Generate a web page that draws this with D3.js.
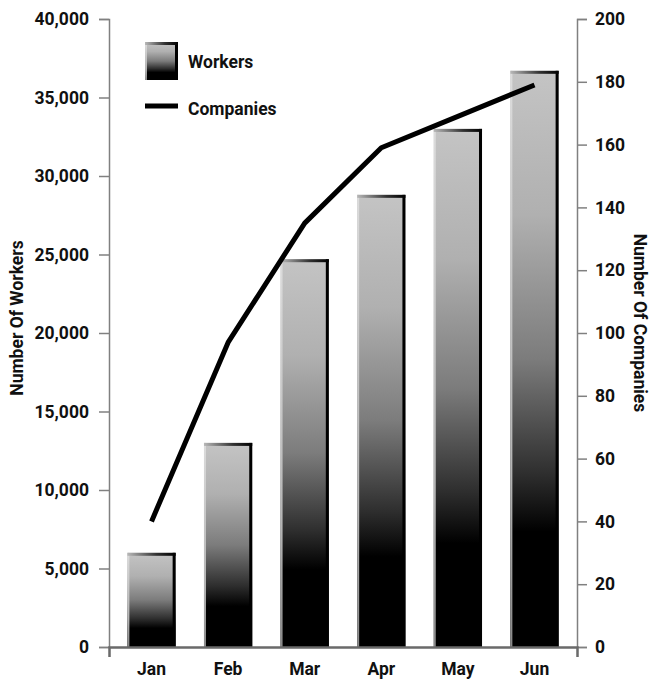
<!DOCTYPE html>
<html>
<head>
<meta charset="utf-8">
<script src="https://cdn.jsdelivr.net/npm/d3@7"></script>
<style>
  html, body { margin: 0; padding: 0; background: #fff; }
  svg text { font-family: Roboto, "Liberation Sans", sans-serif; font-weight: 700; fill: #111; }
</style>
</head>
<body>
<svg id="chart" width="651" height="680"></svg>
<script>
// Monthly workers (bars, left axis) and companies (line, right axis)
const months = ["Jan", "Feb", "Mar", "Apr", "May", "Jun"];
const workers = [6000, 13000, 24700, 28800, 33000, 36700];
const companies = [40, 97, 135, 159, 169, 179];
const workerTicks = [0, 5000, 10000, 15000, 20000, 25000, 30000, 35000, 40000];
const companyTicks = [0, 20, 40, 60, 80, 100, 120, 140, 160, 180, 200];

const svg = d3.select("#chart");
const plotLeft = 109, plotRight = 577, plotTop = 19, plotBottom = 647;
const fontSize = 17.5;

const x = d3.scaleBand().domain(months).range([plotLeft, plotRight]).paddingInner(0.37).paddingOuter(0.24);
const yW = d3.scaleLinear().domain([0, 40000]).range([plotBottom, plotTop]);
const yC = d3.scaleLinear().domain([0, 200]).range([plotBottom, plotTop]);

// Gradients for the shaded bars
const defs = svg.append("defs");
const body = defs.append("linearGradient").attr("id", "barBody").attr("x1", 0).attr("y1", 0).attr("x2", 0).attr("y2", 1);
[[0, "#c4c4c4"], [0.25, "#b0b0b0"], [0.5, "#7c7c7c"], [0.7, "#2e2e2e"], [0.8, "#000"], [1, "#000"]]
  .forEach(([o, c]) => body.append("stop").attr("offset", o).attr("stop-color", c));
const topEdge = defs.append("linearGradient").attr("id", "barTop").attr("x1", 0).attr("y1", 0).attr("x2", 1).attr("y2", 0);
[[0, "#b8b8b8"], [0.6, "#333"], [1, "#000"]]
  .forEach(([o, c]) => topEdge.append("stop").attr("offset", o).attr("stop-color", c));
const leftEdge = defs.append("linearGradient").attr("id", "barLeft").attr("x1", 0).attr("y1", 0).attr("x2", 0).attr("y2", 1);
[[0, "#dcdcdc"], [0.7, "#b4b4b4"], [1, "#8a8a8a"]]
  .forEach(([o, c]) => leftEdge.append("stop").attr("offset", o).attr("stop-color", c));

function bevelBar(g, x0, y0, w, h) {
  g.append("rect").attr("x", x0).attr("y", y0).attr("width", w).attr("height", h).attr("fill", "url(#barBody)");
  g.append("rect").attr("x", x0).attr("y", y0).attr("width", 2).attr("height", h).attr("fill", "url(#barLeft)");
  g.append("rect").attr("x", x0 + w - 3).attr("y", y0).attr("width", 3).attr("height", h).attr("fill", "#000");
  g.append("rect").attr("x", x0).attr("y", y0).attr("width", w).attr("height", 3).attr("fill", "url(#barTop)");
}

// Bars
const bars = svg.append("g");
months.forEach((m, i) => {
  const g = bars.append("g");
  bevelBar(g, x(m), yW(workers[i]), x.bandwidth(), plotBottom - yW(workers[i]));
});

// Axes
const axisLeft = d3.axisLeft(yW).tickValues(workerTicks).tickFormat(d3.format(",")).tickSize(10).tickPadding(10);
const axisRight = d3.axisRight(yC).tickValues(companyTicks).tickSize(10).tickPadding(8);
const axisBottom = d3.axisBottom(x).tickSizeInner(0).tickSizeOuter(10).tickPadding(16);

function styleAxis(g, color, width) {
  g.attr("font-family", null).attr("font-size", null);
  g.selectAll("path.domain").attr("stroke", color).attr("stroke-width", width);
  g.selectAll(".tick line").attr("stroke", color).attr("stroke-width", 1.5);
  g.selectAll(".tick text").attr("font-size", fontSize).attr("fill", "#111");
}

const gl = svg.append("g").attr("transform", `translate(${plotLeft},0)`).call(axisLeft);
styleAxis(gl, "#808080", 1.5);
const gr = svg.append("g").attr("transform", `translate(${plotRight},0)`).call(axisRight);
styleAxis(gr, "#808080", 1.5);
const gb = svg.append("g").attr("transform", `translate(0,${plotBottom})`).call(axisBottom);
styleAxis(gb, "#6a6a6a", 2.5);

// Companies line
const line = d3.line().x((d, i) => x(months[i]) + x.bandwidth() / 2).y(d => yC(d));
svg.append("path").datum(companies).attr("d", line)
  .attr("fill", "none").attr("stroke", "#000").attr("stroke-width", 5).attr("stroke-linejoin", "round");

// Axis titles
svg.append("text").attr("transform", `translate(23,${(plotTop + plotBottom) / 2 - 15}) rotate(-90)`)
  .attr("text-anchor", "middle").attr("font-size", fontSize).text("Number Of Workers");
svg.append("text").attr("transform", `translate(634,${(plotTop + plotBottom) / 2 - 10}) rotate(90)`)
  .attr("text-anchor", "middle").attr("font-size", fontSize).text("Number Of Companies");

// Legend
const legend = svg.append("g");
bevelBar(legend.append("g"), 145, 42, 33, 38);
legend.append("text").attr("x", 188).attr("y", 68).attr("font-size", fontSize).text("Workers");
legend.append("line").attr("x1", 145).attr("x2", 178).attr("y1", 106).attr("y2", 106)
  .attr("stroke", "#000").attr("stroke-width", 5);
legend.append("text").attr("x", 188).attr("y", 115).attr("font-size", fontSize).text("Companies");
</script>
</body>
</html>
